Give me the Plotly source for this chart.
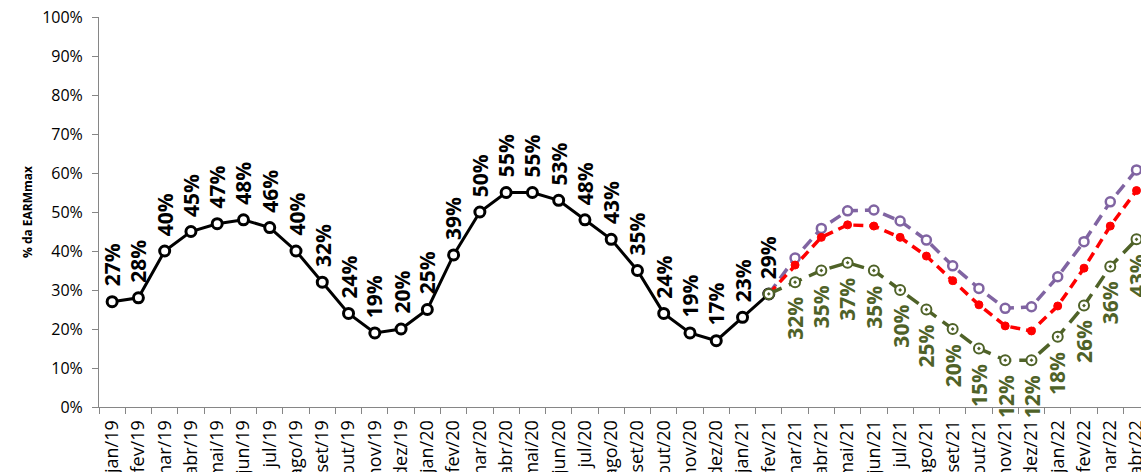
import plotly.graph_objects as go

# Month categories (jan/19 .. abr/22)
months = ["jan", "fev", "mar", "abr", "mai", "jun", "jul", "ago", "set", "out", "nov", "dez"]
categories = [f"{m}/{y}" for y in ("19", "20", "21") for m in months] + ["jan/22", "fev/22", "mar/22", "abr/22"]

# Verified storage (% of EARMmax), jan/19 .. fev/21
hist_x = categories[:26]
hist_vals = [27, 28, 40, 45, 47, 48, 46, 40, 32, 24, 19, 20, 25,
             39, 50, 55, 55, 53, 48, 43, 35, 24, 19, 17, 23, 29]

# Projections, fev/21 .. abr/22
proj_x = categories[25:]
upper_vals = [29, 38.2, 45.8, 50.3, 50.5, 47.7, 42.8, 36.2, 30.4, 25.3, 25.7, 33.4, 42.4, 52.6, 60.8]
mid_vals = [29, 36.4, 43.5, 46.7, 46.4, 43.5, 38.7, 32.4, 26.2, 20.8, 19.5, 25.9, 35.6, 46.4, 55.5]
low_vals = [29, 32, 35, 37, 35, 30, 25, 20, 15, 12, 12, 18, 26, 36, 43]

y_ticks = [0, 10, 20, 30, 40, 50, 60, 70, 80, 90, 100]

BLACK = "#000000"
PURPLE = "#8064A2"
RED = "#FF0000"
OLIVE = "#4F6228"
FONT = "Open Sans"

fig = go.Figure()

fig.add_trace(go.Scatter(
    x=hist_x, y=hist_vals, mode="lines+markers",
    line=dict(color=BLACK, width=3),
    marker=dict(symbol="circle", size=10, color="white", line=dict(color=BLACK, width=3)),
    showlegend=False,
))
fig.add_trace(go.Scatter(
    x=proj_x, y=upper_vals, mode="lines+markers",
    line=dict(color=PURPLE, width=3.5, dash="12px,7px"),
    marker=dict(symbol="circle", size=9, color="white", line=dict(color=PURPLE, width=2.5)),
    showlegend=False,
))
fig.add_trace(go.Scatter(
    x=proj_x, y=mid_vals, mode="lines+markers",
    line=dict(color=RED, width=3.5, dash="10px,6px"),
    marker=dict(symbol="circle", size=8, color=RED, line=dict(color=RED, width=1)),
    showlegend=False,
))
fig.add_trace(go.Scatter(
    x=proj_x, y=low_vals, mode="lines+markers",
    line=dict(color=OLIVE, width=3.5, dash="14px,8px"),
    marker=dict(symbol="circle-dot", size=10, color="white", line=dict(color=OLIVE, width=2)),
    showlegend=False,
))

annotations = []
for cx, v in zip(hist_x, hist_vals):
    annotations.append(dict(
        x=cx, y=v, xref="x", yref="y", text=f"<b>{v}%</b>", showarrow=False,
        textangle=-90, xanchor="center", yanchor="bottom", yshift=13,
        font=dict(family=FONT, size=21, color=BLACK),
    ))
for cx, v in zip(proj_x[1:], low_vals[1:]):
    annotations.append(dict(
        x=cx, y=v, xref="x", yref="y", text=f"<b>{v}%</b>", showarrow=False,
        textangle=-90, xanchor="center", yanchor="top", yshift=-13,
        font=dict(family=FONT, size=21, color=OLIVE),
    ))

fig.update_layout(
    width=1141, height=472,
    margin=dict(l=99, r=0, t=17, b=65),
    paper_bgcolor="white", plot_bgcolor="white",
    font=dict(family=FONT, color="#000000"),
    annotations=annotations,
    xaxis=dict(
        type="category", categoryorder="array", categoryarray=categories,
        range=[-0.5, 39.17], tickson="boundaries",
        showline=True, linecolor="#868686", linewidth=1,
        ticks="outside", ticklen=6, tickcolor="#868686",
        showgrid=False, zeroline=False, automargin=False,
        tickangle=-90, ticklabelstandoff=5,
        tickfont=dict(family=FONT, size=18, color="#000000"),
    ),
    yaxis=dict(
        range=[0, 100], tickvals=y_ticks, ticktext=[f"{t}%" for t in y_ticks],
        showline=True, linecolor="#868686", linewidth=1,
        ticks="outside", ticklen=6, tickcolor="#868686",
        showgrid=False, zeroline=False, automargin=False,
        ticklabelstandoff=6,
        tickfont=dict(family=FONT, size=16, color="#000000"),
        title=dict(text="<b>% da EARMmax</b>", font=dict(family=FONT, size=12, color="#000000"), standoff=6),
    ),
)

fig.write_html("out.html")
